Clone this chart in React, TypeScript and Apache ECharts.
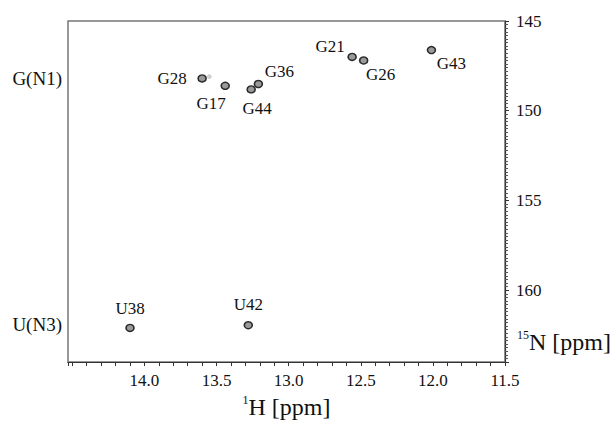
import React, { useEffect, useRef } from 'react';
import * as echarts from 'echarts';

// Peak assignments and chemical shifts (1H, 15N)
const peakNames = ['G28', 'G17', 'G44', 'G36', 'G21', 'G26', 'G43', 'U38', 'U42'];
const peakH = [13.6, 13.44, 13.26, 13.21, 12.56, 12.48, 12.01, 14.1, 13.28];
const peakN = [148.2, 148.61, 148.81, 148.51, 147.0, 147.2, 146.62, 162.1, 161.95];

// faint shoulder next to G28
const weakH = [13.55];
const weakN = [148.1];

// row labels at the left
const rowLabels = ['G(N1)', 'U(N3)'];
const rowLabelPpm = [148.2, 161.9];

// axis ranges
const hRange = [11.5, 14.53];
const nRange = [145, 164];

// label offsets (styling) relative to each peak
const labelOffsets: Record<string, [number, number]> = {
  G28: [-30, 0],
  G17: [-14, 18],
  G44: [6, 19],
  G36: [21, -12],
  G21: [-22, -10],
  G26: [17, 14],
  G43: [20, 13],
  U38: [0, -19],
  U42: [0, -21],
};

const FONT = "'Liberation Serif', 'Times New Roman', serif";

export default function App() {
  const ref = useRef<HTMLDivElement>(null);
  useEffect(() => {
    document.body.style.margin = '0';
    const chart = echarts.init(ref.current!, null, { renderer: 'svg' });
    const data = peakNames.map((n, i) => ({
      name: n,
      value: [peakH[i], peakN[i]],
      label: { offset: labelOffsets[n] },
    }));
    chart.setOption({
      animation: false,
      backgroundColor: '#ffffff',
      grid: {
        left: 68,
        right: 109,
        top: 21,
        bottom: 64,
        show: true,
        borderColor: '#777',
        borderWidth: 1.5,
      },
      xAxis: {
        type: 'value',
        inverse: true,
        min: hRange[0],
        max: hRange[1],
        interval: 0.5,
        axisLine: { show: true, lineStyle: { color: '#333', width: 1.2 } },
        axisTick: { show: true, length: 4, lineStyle: { color: '#333' } },
        minorTick: { show: true, splitNumber: 5, length: 4, lineStyle: { color: '#333' } },
        splitLine: { show: false },
        axisLabel: {
          margin: 10,
          fontFamily: FONT,
          fontSize: 17,
          color: '#111',
          formatter: (v: number) => (v <= 14.01 ? v.toFixed(1) : ''),
        },
        name: '{sup|1}H [ppm]',
        nameLocation: 'middle',
        nameGap: 30,
        nameTextStyle: {
          fontFamily: FONT,
          fontSize: 24,
          color: '#111',
          lineHeight: 26,
          rich: { sup: { fontFamily: FONT, fontSize: 12, verticalAlign: 'top', lineHeight: 26, color: '#111' } },
        },
      },
      yAxis: {
        type: 'value',
        position: 'right',
        inverse: true,
        min: nRange[0],
        max: nRange[1],
        interval: 5,
        axisLine: { show: true, lineStyle: { color: '#333', width: 1.2 } },
        axisTick: { show: true, length: 4, lineStyle: { color: '#333' } },
        minorTick: { show: true, splitNumber: 25, length: 3, lineStyle: { color: '#555' } },
        splitLine: { show: false },
        axisLabel: {
          margin: 11,
          fontFamily: FONT,
          fontSize: 17,
          color: '#111',
          formatter: (v: number) => (v % 5 === 0 ? String(v) : ''),
        },
      },
      series: [
        {
          type: 'scatter',
          symbol: 'circle',
          symbolSize: [8, 7],
          itemStyle: { color: '#9a9a9a', borderColor: '#2a2a2a', borderWidth: 1.5, opacity: 1 },
          label: {
            show: true,
            position: 'inside',
            formatter: '{b}',
            fontFamily: FONT,
            fontSize: 17,
            color: '#111',
          },
          emphasis: { disabled: true },
          data,
        },
        {
          type: 'scatter',
          symbol: 'circle',
          symbolSize: 4,
          itemStyle: { color: '#c8c8c8', borderColor: '#aaa', borderWidth: 0.5 },
          emphasis: { disabled: true },
          data: weakH.map((h, i) => [h, weakN[i]]),
        },
      ],
    });

    const yPix = rowLabelPpm.map((v) => chart.convertToPixel({ yAxisIndex: 0 }, v) as number);
    chart.setOption({
      graphic: [
        ...rowLabels.map((t, i) => ({
          type: 'text',
          x: 62,
          y: yPix[i],
          style: {
            text: t,
            fontFamily: FONT,
            fontSize: 19,
            fill: '#111',
            align: 'right',
            verticalAlign: 'middle',
          },
        })),
        {
          type: 'text',
          x: 517,
          y: 342,
          style: {
            text: '{sup|15}N [ppm]',
            fontFamily: FONT,
            fontSize: 24,
            fill: '#111',
            align: 'left',
            verticalAlign: 'middle',
            lineHeight: 26,
            rich: { sup: { fontFamily: FONT, fontSize: 12, verticalAlign: 'top', lineHeight: 26, fill: '#111' } },
          },
        },
      ],
    });

    return () => chart.dispose();
  }, []);
  return <div ref={ref} style={{ width: 614, height: 426 }} />;
}
